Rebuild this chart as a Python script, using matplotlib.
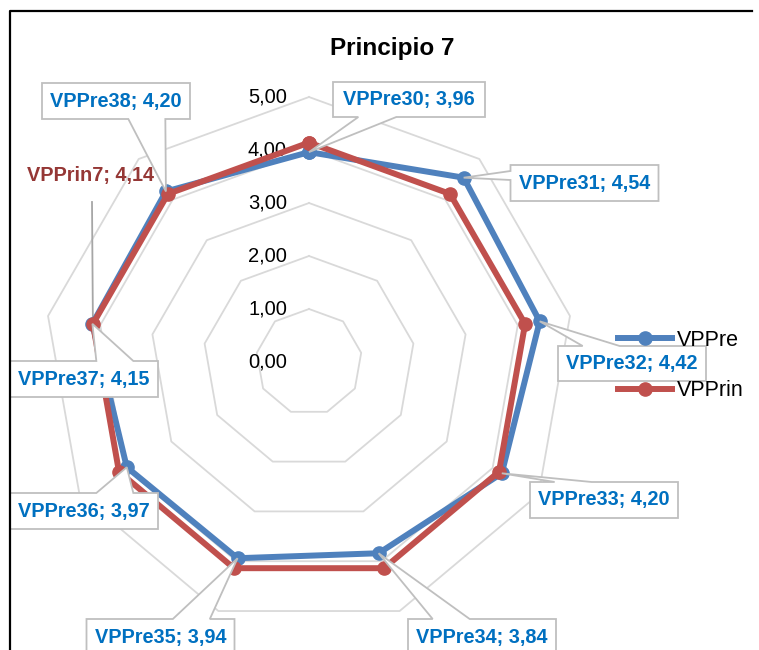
import numpy as np
import matplotlib
matplotlib.use('Agg')
import matplotlib.pyplot as plt
from matplotlib.patches import Polygon
from matplotlib.lines import Line2D

plt.rcParams['font.family'] = ['Liberation Sans', 'DejaVu Sans']

# data
title = 'Principio 7'
categories = ['VPPre30', 'VPPre31', 'VPPre32', 'VPPre33', 'VPPre34',
              'VPPre35', 'VPPre36', 'VPPre37', 'VPPre38']
vppre = [3.96, 4.54, 4.42, 4.20, 3.84, 3.94, 3.97, 4.15, 4.20]
vpprin = [4.14, 4.14, 4.14, 4.14, 4.14, 4.14, 4.14, 4.14, 4.14]
vpprin_label = 'VPPrin7'
vpprin_label_idx = 7
ring_values = [1, 2, 3, 4, 5]
tick_values = [0, 1, 2, 3, 4, 5]

# layout (pixels of the 759x650 picture)
W, H = 759, 650
CX, CY, S = 309, 362, 53  # centre of the radar and pixels per unit
# callout boxes: centre x, centre y, width, height
label_boxes = [(409, 99.5, 152, 35), (584.5, 183, 148, 36), (632, 363.5, 148, 35),
               (604, 500, 148, 36), (482, 637, 148, 36), (160.5, 637, 148, 36),
               (84, 511, 148, 36), (84, 379, 148, 36), (116, 101, 148, 36)]

BLUE = '#4F81BD'
RED = '#C0504D'
LBLUE = '#0070C0'
DRED = '#953735'
GRID = '#D9D9D9'
BOXEDGE = '#BFBFBF'


def d(px, py):
    # pixel position -> data position
    return (px - CX) / S, (CY - py) / S


def p(x, y):
    # data position -> pixel position
    return CX + x * S, CY - y * S


def callout(cx, cy, w, h, tx, ty):
    # wedge rectangle callout like the office shape, in pixel coords
    l, t, r, b = cx - w / 2, cy - h / 2, cx + w / 2, cy + h / 2
    dx, dy = tx - cx, ty - cy
    dz = abs(dy) - abs(dx * h / w)
    x1 = l + w * (7 if dx > 0 else 2) / 12
    x2 = l + w * (10 if dx > 0 else 5) / 12
    y1 = t + h * (7 if dy > 0 else 2) / 12
    y2 = t + h * (10 if dy > 0 else 5) / 12
    pts = [(l, t), (x1, t)]
    if dz > 0 and dy < 0:
        pts.append((tx, ty))
    pts += [(x2, t), (r, t), (r, y1)]
    if dz <= 0 and dx > 0:
        pts.append((tx, ty))
    pts += [(r, y2), (r, b), (x2, b)]
    if dz > 0 and dy > 0:
        pts.append((tx, ty))
    pts += [(x1, b), (l, b), (l, y2)]
    if dz <= 0 and dx < 0:
        pts.append((tx, ty))
    pts.append((l, y1))
    return [d(a, c) for a, c in pts]


fig = plt.figure(figsize=(W / 100, H / 100), dpi=100)
ax = fig.add_axes([0, 0, 1, 1])
ax.set_xlim((0 - CX) / S, (W - CX) / S)
ax.set_ylim((CY - H) / S, CY / S)
ax.axis('off')

n = len(categories)
theta = np.deg2rad(90 - 360 / n * np.arange(n))
ct, st = np.cos(theta), np.sin(theta)

# rings
for v in ring_values:
    ax.plot(np.append(v * ct, v * ct[0]), np.append(v * st, v * st[0]),
            color=GRID, lw=1.3, zorder=1)

for v in tick_values:
    ax.text(-22 / S, v, f'{v:.2f}'.replace('.', ','), ha='right', va='center',
            fontsize=14.5, color='black', zorder=2)

# series
pre = np.array(vppre)
prin = np.array(vpprin)
ax.plot(np.append(pre * ct, pre[0] * ct[0]), np.append(pre * st, pre[0] * st[0]),
        color=BLUE, lw=4.3, marker='o', ms=9.5, zorder=3, label='VPPre')
ax.plot(np.append(prin * ct, prin[0] * ct[0]), np.append(prin * st, prin[0] * st[0]),
        color=RED, lw=4.3, marker='o', ms=9.5, zorder=4, label='VPPrin')

# data labels
for i, (cat, v) in enumerate(zip(categories, vppre)):
    bx, by, bw, bh = label_boxes[i]
    tx, ty = p(v * ct[i], v * st[i])
    ax.add_patch(Polygon(callout(bx, by, bw, bh, tx, ty), closed=True,
                         facecolor='white', edgecolor=BOXEDGE, lw=1.3, zorder=5))
    lx, ly = d(bx, by)
    ax.text(lx, ly, f'{cat}; {v:.2f}'.replace('.', ','), ha='center', va='center',
            fontsize=14.3, fontweight='bold', color=LBLUE, zorder=6)

# the one label on VPPrin
k = vpprin_label_idx
px_, py_ = prin[k] * ct[k], prin[k] * st[k]
lx, ly = d(91, 176)
ax.text(lx, ly, f'{vpprin_label}; {vpprin[k]:.2f}'.replace('.', ','), ha='center',
        va='center', fontsize=14.3, fontweight='bold', color=DRED, zorder=6)
sx, sy = d(92, 202)
ax.plot([sx, px_], [sy, py_], color='#A6A6A6', lw=1.3, zorder=2)

# title
tx_, ty_ = d(392, 48)
ax.text(tx_, ty_, title, ha='center', va='center', fontsize=17.5, fontweight='bold')

# legend
handles = [Line2D([], [], color=BLUE, lw=4.3, marker='o', ms=9.5),
           Line2D([], [], color=RED, lw=4.3, marker='o', ms=9.5)]
leg = ax.legend(handles, ['VPPre', 'VPPrin'], loc='upper left',
                bbox_to_anchor=(618 / W, 1 - 330 / H), frameon=False, fontsize=15.5,
                handlelength=2.5, handletextpad=0.25, labelspacing=1.35,
                borderpad=0, borderaxespad=0)
leg.set_zorder(10)

# chart frame (left and top edges visible)
fig.add_artist(Line2D([10 / W, 10 / W, 752 / W], [0, 1 - 11 / H, 1 - 11 / H],
                      color='black', lw=1.6, transform=fig.transFigure))

fig.savefig('out.png', dpi=100)
